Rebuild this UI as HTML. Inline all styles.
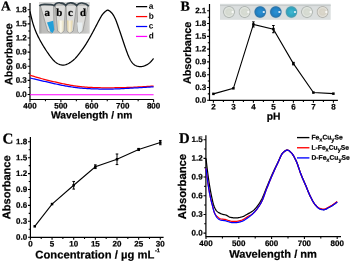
<!DOCTYPE html><html><head><meta charset="utf-8"><style>html,body{margin:0;padding:0;background:#fff;width:350px;height:261px;overflow:hidden}svg{display:block}text{font-family:"Liberation Sans",sans-serif;fill:#000;stroke:#000;stroke-width:0.22px;text-rendering:geometricPrecision}</style></head><body>
<svg width="350" height="261" viewBox="0 0 350 261">
<defs><filter id="bl" x="-20%" y="-20%" width="140%" height="140%"><feGaussianBlur stdDeviation="0.6"/></filter><filter id="bl2" x="-20%" y="-20%" width="140%" height="140%"><feGaussianBlur stdDeviation="0.9"/></filter><radialGradient id="wellW" cx="0.5" cy="0.5" r="0.5"><stop offset="0" stop-color="#d8ddd4"/><stop offset="0.5" stop-color="#d4d9d0"/><stop offset="0.72" stop-color="#e2e6e0"/><stop offset="0.88" stop-color="#b0b6b2"/><stop offset="1" stop-color="#cfd3d3"/></radialGradient><radialGradient id="wellY" cx="0.5" cy="0.5" r="0.5"><stop offset="0" stop-color="#dcd8cc"/><stop offset="0.5" stop-color="#d6d2c6"/><stop offset="0.72" stop-color="#e4e2da"/><stop offset="0.88" stop-color="#b4b4ae"/><stop offset="1" stop-color="#d2d4d2"/></radialGradient><radialGradient id="wellB" cx="0.5" cy="0.5" r="0.5"><stop offset="0" stop-color="#2c92d4"/><stop offset="0.6" stop-color="#2282c6"/><stop offset="0.84" stop-color="#2c74a8"/><stop offset="1" stop-color="#b4c6d2"/></radialGradient><radialGradient id="wellC" cx="0.5" cy="0.5" r="0.5"><stop offset="0" stop-color="#44b8d0"/><stop offset="0.6" stop-color="#2ca6c2"/><stop offset="0.84" stop-color="#4a9cb0"/><stop offset="1" stop-color="#bcd0d4"/></radialGradient><filter id="gb" x="0" y="0" width="350" height="261" filterUnits="userSpaceOnUse"><feGaussianBlur stdDeviation="0.42"/></filter></defs>
<g filter="url(#gb)">
<rect x="0" y="0" width="350" height="261" fill="#fff"/>
<path d="M30.00,2.90 V99.50 H153.60" fill="none" stroke="#000" stroke-width="1.20"/>
<path d="M30.00,94.50 h-2.40 M30.00,80.37 h-2.40 M30.00,66.24 h-2.40 M30.00,52.11 h-2.40 M30.00,37.98 h-2.40 M30.00,23.85 h-2.40 M30.00,9.72 h-2.40 M30.00,87.44 h-1.70 M30.00,73.31 h-1.70 M30.00,59.17 h-1.70 M30.00,45.04 h-1.70 M30.00,30.92 h-1.70 M30.00,16.78 h-1.70 M30.00,99.50 v2.40 M60.90,99.50 v2.40 M91.80,99.50 v2.40 M122.70,99.50 v2.40 M153.60,99.50 v2.40 M45.45,99.50 v1.70 M76.35,99.50 v1.70 M107.25,99.50 v1.70 M138.15,99.50 v1.70 " fill="none" stroke="#000" stroke-width="1.08"/>
<text transform="rotate(0.05 26.80 96.95)" x="26.80" y="96.95" text-anchor="end" font-size="8.00" font-weight="bold">0.0</text>
<text transform="rotate(0.05 26.80 82.82)" x="26.80" y="82.82" text-anchor="end" font-size="8.00" font-weight="bold">0.3</text>
<text transform="rotate(0.05 26.80 68.69)" x="26.80" y="68.69" text-anchor="end" font-size="8.00" font-weight="bold">0.6</text>
<text transform="rotate(0.05 26.80 54.56)" x="26.80" y="54.56" text-anchor="end" font-size="8.00" font-weight="bold">0.9</text>
<text transform="rotate(0.05 26.80 40.43)" x="26.80" y="40.43" text-anchor="end" font-size="8.00" font-weight="bold">1.2</text>
<text transform="rotate(0.05 26.80 26.30)" x="26.80" y="26.30" text-anchor="end" font-size="8.00" font-weight="bold">1.5</text>
<text transform="rotate(0.05 26.80 12.17)" x="26.80" y="12.17" text-anchor="end" font-size="8.00" font-weight="bold">1.8</text>
<text transform="rotate(0.05 30.00 108.60)" x="30.00" y="108.60" text-anchor="middle" font-size="8.00" font-weight="bold">400</text>
<text transform="rotate(0.05 60.90 108.60)" x="60.90" y="108.60" text-anchor="middle" font-size="8.00" font-weight="bold">500</text>
<text transform="rotate(0.05 91.80 108.60)" x="91.80" y="108.60" text-anchor="middle" font-size="8.00" font-weight="bold">600</text>
<text transform="rotate(0.05 122.70 108.60)" x="122.70" y="108.60" text-anchor="middle" font-size="8.00" font-weight="bold">700</text>
<text transform="rotate(0.05 153.60 108.60)" x="153.60" y="108.60" text-anchor="middle" font-size="8.00" font-weight="bold">800</text>
<text x="12.20" y="54.20" font-size="10.65" font-weight="bold" text-anchor="middle" transform="rotate(-89.95 12.20 54.20)">Absorbance</text>
<text transform="rotate(0.05 91.7 118.6)" x="91.7" y="118.6" font-size="10.3" font-weight="bold" text-anchor="middle">Wavelength / nm</text>
<text transform="rotate(0.05 1.00 10.60)" x="1.00" y="10.60" font-size="13.50" font-weight="bold" style="font-family:'Liberation Serif', serif">A</text>
<path d="M30.00,11.40 L30.50,13.64 L31.00,15.85 L31.50,17.98 L32.00,20.00 L32.50,21.88 L33.00,23.61 L33.50,25.23 L34.00,26.74 L34.50,28.16 L35.00,29.50 L35.50,30.77 L36.00,31.99 L36.50,33.15 L37.00,34.27 L37.50,35.34 L38.00,36.37 L38.50,37.36 L39.00,38.33 L39.50,39.28 L40.00,40.20 L40.50,41.11 L41.00,42.00 L41.50,42.89 L42.00,43.75 L42.50,44.61 L43.00,45.45 L43.50,46.28 L44.00,47.10 L44.50,47.91 L45.00,48.70 L45.50,49.48 L46.00,50.25 L46.50,51.02 L47.00,51.76 L47.50,52.50 L48.00,53.22 L48.50,53.94 L49.00,54.64 L49.50,55.33 L50.00,56.00 L50.50,56.66 L51.00,57.31 L51.50,57.94 L52.00,58.55 L52.50,59.14 L53.00,59.71 L53.50,60.25 L54.00,60.76 L54.50,61.25 L55.00,61.70 L55.50,62.12 L56.00,62.51 L56.50,62.87 L57.00,63.19 L57.50,63.49 L58.00,63.76 L58.50,64.01 L59.00,64.23 L59.50,64.43 L60.00,64.60 L60.50,64.75 L61.00,64.88 L61.50,64.98 L62.00,65.06 L62.50,65.11 L63.00,65.12 L63.50,65.11 L64.00,65.07 L64.50,65.00 L65.00,64.90 L65.50,64.77 L66.00,64.62 L66.50,64.43 L67.00,64.23 L67.50,64.00 L68.00,63.76 L68.50,63.49 L69.00,63.21 L69.50,62.91 L70.00,62.60 L70.50,62.28 L71.00,61.94 L71.50,61.59 L72.00,61.22 L72.50,60.84 L73.00,60.43 L73.50,60.01 L74.00,59.56 L74.50,59.09 L75.00,58.60 L75.50,58.08 L76.00,57.54 L76.50,56.98 L77.00,56.39 L77.50,55.79 L78.00,55.17 L78.50,54.55 L79.00,53.91 L79.50,53.26 L80.00,52.60 L80.50,51.94 L81.00,51.27 L81.50,50.60 L82.00,49.92 L82.50,49.23 L83.00,48.53 L83.50,47.81 L84.00,47.09 L84.50,46.35 L85.00,45.60 L85.50,44.83 L86.00,44.05 L86.50,43.25 L87.00,42.44 L87.50,41.62 L88.00,40.78 L88.50,39.93 L89.00,39.06 L89.50,38.19 L90.00,37.30 L90.50,36.40 L91.00,35.49 L91.50,34.57 L92.00,33.65 L92.50,32.72 L93.00,31.78 L93.50,30.84 L94.00,29.89 L94.50,28.95 L95.00,28.00 L95.50,27.05 L96.00,26.11 L96.50,25.16 L97.00,24.20 L97.50,23.24 L98.00,22.27 L98.50,21.31 L99.00,20.36 L99.50,19.42 L100.00,18.50 L100.50,17.60 L101.00,16.74 L101.50,15.92 L102.00,15.15 L102.50,14.44 L103.00,13.80 L103.50,13.23 L104.00,12.72 L104.50,12.25 L105.00,11.80 L105.50,11.36 L106.00,10.95 L106.50,10.59 L107.00,10.34 L107.50,10.20 L108.00,10.21 L108.50,10.35 L109.00,10.59 L109.50,10.92 L110.00,11.30 L110.50,11.72 L111.00,12.19 L111.50,12.70 L112.00,13.27 L112.50,13.90 L113.00,14.60 L113.50,15.37 L114.00,16.22 L114.50,17.16 L115.00,18.20 L115.50,19.33 L116.00,20.55 L116.50,21.84 L117.00,23.19 L117.50,24.58 L118.00,26.00 L118.50,27.43 L119.00,28.88 L119.50,30.33 L120.00,31.80 L120.50,33.28 L121.00,34.77 L121.50,36.27 L122.00,37.77 L122.50,39.27 L123.00,40.77 L123.50,42.27 L124.00,43.76 L124.50,45.24 L125.00,46.70 L125.50,48.15 L126.00,49.57 L126.50,50.97 L127.00,52.32 L127.50,53.64 L128.00,54.90 L128.50,56.10 L129.00,57.24 L129.50,58.31 L130.00,59.30 L130.50,60.20 L131.00,61.03 L131.50,61.77 L132.00,62.45 L132.50,63.05 L133.00,63.59 L133.50,64.07 L134.00,64.50 L134.50,64.87 L135.00,65.20 L135.50,65.49 L136.00,65.73 L136.50,65.94 L137.00,66.12 L137.50,66.26 L138.00,66.38 L138.50,66.47 L139.00,66.53 L139.50,66.57 L140.00,66.60 L140.50,66.61 L141.00,66.60 L141.50,66.56 L142.00,66.50 L142.50,66.41 L143.00,66.29 L143.50,66.15 L144.00,65.98 L144.50,65.80 L145.00,65.60 L145.50,65.39 L146.00,65.16 L146.50,64.92 L147.00,64.66 L147.50,64.37 L148.00,64.06 L148.50,63.72 L149.00,63.35 L149.50,62.94 L150.00,62.50 L150.50,62.02 L151.00,61.51 L151.50,60.96 L152.00,60.40 L152.50,59.82 L153.00,59.22 L153.50,58.62 L153.60,58.50" fill="none" stroke="#000" stroke-width="1.25"/>
<path d="M30.00,75.20 L31.00,75.51 L32.00,75.82 L33.00,76.12 L34.00,76.43 L35.00,76.73 L36.00,77.03 L37.00,77.33 L38.00,77.63 L39.00,77.92 L40.00,78.20 L41.00,78.48 L42.00,78.75 L43.00,79.02 L44.00,79.29 L45.00,79.55 L46.00,79.81 L47.00,80.06 L48.00,80.31 L49.00,80.56 L50.00,80.80 L51.00,81.04 L52.00,81.28 L53.00,81.52 L54.00,81.75 L55.00,81.98 L56.00,82.21 L57.00,82.44 L58.00,82.66 L59.00,82.88 L60.00,83.10 L61.00,83.32 L62.00,83.53 L63.00,83.74 L64.00,83.95 L65.00,84.15 L66.00,84.35 L67.00,84.54 L68.00,84.73 L69.00,84.92 L70.00,85.10 L71.00,85.28 L72.00,85.45 L73.00,85.61 L74.00,85.77 L75.00,85.92 L76.00,86.07 L77.00,86.21 L78.00,86.34 L79.00,86.47 L80.00,86.58 L81.00,86.70 L82.00,86.80 L83.00,86.90 L84.00,86.99 L85.00,87.07 L86.00,87.14 L87.00,87.21 L88.00,87.28 L89.00,87.34 L90.00,87.39 L91.00,87.44 L92.00,87.49 L93.00,87.53 L94.00,87.56 L95.00,87.60 L96.00,87.63 L97.00,87.66 L98.00,87.69 L99.00,87.71 L100.00,87.74 L101.00,87.75 L102.00,87.77 L103.00,87.78 L104.00,87.79 L105.00,87.80 L106.00,87.80 L107.00,87.80 L108.00,87.80 L109.00,87.80 L110.00,87.79 L111.00,87.78 L112.00,87.77 L113.00,87.76 L114.00,87.75 L115.00,87.73 L116.00,87.72 L117.00,87.70 L118.00,87.68 L119.00,87.67 L120.00,87.65 L121.00,87.63 L122.00,87.61 L123.00,87.59 L124.00,87.56 L125.00,87.54 L126.00,87.51 L127.00,87.48 L128.00,87.45 L129.00,87.42 L130.00,87.38 L131.00,87.34 L132.00,87.30 L133.00,87.25 L134.00,87.21 L135.00,87.16 L136.00,87.10 L137.00,87.05 L138.00,86.99 L139.00,86.93 L140.00,86.88 L141.00,86.82 L142.00,86.76 L143.00,86.70 L144.00,86.64 L145.00,86.58 L146.00,86.53 L147.00,86.47 L148.00,86.41 L149.00,86.36 L150.00,86.30 L151.00,86.24 L152.00,86.19 L153.00,86.13 L153.60,86.10" fill="none" stroke="#ff0000" stroke-width="1.25"/>
<path d="M30.00,78.00 L31.00,78.25 L32.00,78.49 L33.00,78.74 L34.00,78.98 L35.00,79.23 L36.00,79.47 L37.00,79.70 L38.00,79.94 L39.00,80.17 L40.00,80.40 L41.00,80.62 L42.00,80.85 L43.00,81.06 L44.00,81.28 L45.00,81.50 L46.00,81.71 L47.00,81.93 L48.00,82.15 L49.00,82.37 L50.00,82.60 L51.00,82.83 L52.00,83.06 L53.00,83.30 L54.00,83.53 L55.00,83.77 L56.00,84.00 L57.00,84.24 L58.00,84.46 L59.00,84.68 L60.00,84.90 L61.00,85.11 L62.00,85.31 L63.00,85.50 L64.00,85.69 L65.00,85.87 L66.00,86.05 L67.00,86.22 L68.00,86.38 L69.00,86.54 L70.00,86.70 L71.00,86.85 L72.00,87.00 L73.00,87.15 L74.00,87.29 L75.00,87.42 L76.00,87.55 L77.00,87.67 L78.00,87.79 L79.00,87.90 L80.00,88.01 L81.00,88.11 L82.00,88.20 L83.00,88.29 L84.00,88.36 L85.00,88.44 L86.00,88.50 L87.00,88.56 L88.00,88.62 L89.00,88.67 L90.00,88.71 L91.00,88.76 L92.00,88.80 L93.00,88.83 L94.00,88.87 L95.00,88.90 L96.00,88.93 L97.00,88.96 L98.00,88.99 L99.00,89.01 L100.00,89.03 L101.00,89.05 L102.00,89.07 L103.00,89.08 L104.00,89.09 L105.00,89.10 L106.00,89.10 L107.00,89.10 L108.00,89.10 L109.00,89.09 L110.00,89.08 L111.00,89.07 L112.00,89.05 L113.00,89.02 L114.00,89.00 L115.00,88.97 L116.00,88.94 L117.00,88.90 L118.00,88.86 L119.00,88.82 L120.00,88.77 L121.00,88.72 L122.00,88.67 L123.00,88.62 L124.00,88.56 L125.00,88.50 L126.00,88.45 L127.00,88.39 L128.00,88.33 L129.00,88.27 L130.00,88.21 L131.00,88.16 L132.00,88.10 L133.00,88.04 L134.00,87.99 L135.00,87.94 L136.00,87.88 L137.00,87.83 L138.00,87.78 L139.00,87.72 L140.00,87.67 L141.00,87.61 L142.00,87.56 L143.00,87.50 L144.00,87.44 L145.00,87.38 L146.00,87.31 L147.00,87.25 L148.00,87.18 L149.00,87.12 L150.00,87.05 L151.00,86.98 L152.00,86.91 L153.00,86.84 L153.60,86.80" fill="none" stroke="#0000ff" stroke-width="1.25"/>
<path d="M30.00,94.75 H153.60" fill="none" stroke="#ff00ff" stroke-width="1.2"/>
<path d="M136.0,6.65 H147.2" stroke="#000" stroke-width="1.25"/>
<text transform="rotate(0.05 148.8 8.75)" x="148.8" y="8.75" font-size="8.3" font-weight="bold" style="stroke-width:0">a</text>
<path d="M136.0,16.58 H147.2" stroke="#ff0000" stroke-width="1.25"/>
<text transform="rotate(0.05 148.8 18.68)" x="148.8" y="18.68" font-size="8.3" font-weight="bold" style="stroke-width:0">b</text>
<path d="M136.0,26.51 H147.2" stroke="#0000ff" stroke-width="1.25"/>
<text transform="rotate(0.05 148.8 28.61)" x="148.8" y="28.61" font-size="8.3" font-weight="bold" style="stroke-width:0">c</text>
<path d="M136.0,36.44 H147.2" stroke="#ff00ff" stroke-width="1.25"/>
<text transform="rotate(0.05 148.8 38.54)" x="148.8" y="38.54" font-size="8.3" font-weight="bold" style="stroke-width:0">d</text>
<linearGradient id="phbg" x1="0" y1="0" x2="1" y2="0"><stop offset="0" stop-color="#9c9c9a"/><stop offset="0.06" stop-color="#bcbcba"/><stop offset="0.9" stop-color="#c4c4c2"/><stop offset="1" stop-color="#d2d2d0"/></linearGradient>
<linearGradient id="liqB" x1="0" y1="0" x2="1" y2="0"><stop offset="0" stop-color="#e2d8b4"/><stop offset="0.5" stop-color="#fbfaf2"/><stop offset="1" stop-color="#e6dcb8"/></linearGradient>
<linearGradient id="liqC" x1="0" y1="0" x2="1" y2="0"><stop offset="0" stop-color="#dccb9a"/><stop offset="0.5" stop-color="#f8f2e0"/><stop offset="1" stop-color="#e0d0a0"/></linearGradient>
<rect x="39.2" y="2.3" width="50.5" height="31.3" fill="url(#phbg)"/>
<rect x="39.2" y="2.3" width="50.5" height="2.2" fill="#dcdcda" filter="url(#bl)"/>
<path d="M40.20,5.00 L53.60,5.00 L54.00,30.00 L51.50,33.20 L47.60,31.00Z" fill="#dededc" stroke="#949492" stroke-width="0.8" filter="url(#bl)"/>
<path d="M47.00,22.40 L53.20,20.80 L54.20,29.80 L52.60,32.90 L50.60,32.10Z" fill="#229fd8" filter="url(#bl)"/>
<path d="M55.20,5.00 L65.60,5.00 L64.00,31.00 L61.00,33.20 L57.60,31.00Z" fill="#dededc" stroke="#949492" stroke-width="0.8" filter="url(#bl)"/>
<path d="M58.00,20.60 L63.60,20.60 L63.30,31.00 L61.00,33.00 L58.50,31.00Z" fill="url(#liqB)" filter="url(#bl)"/>
<path d="M66.00,5.00 L76.60,5.00 L73.20,31.00 L70.00,33.20 L67.00,31.00Z" fill="#dededc" stroke="#949492" stroke-width="0.8" filter="url(#bl)"/>
<path d="M66.90,20.60 L72.60,20.60 L72.00,31.00 L69.80,32.80 L67.70,31.00Z" fill="url(#liqC)" filter="url(#bl)"/>
<path d="M77.00,5.00 L88.20,5.00 L82.80,31.00 L79.60,33.20 L77.60,31.00Z" fill="#dededc" stroke="#949492" stroke-width="0.8" filter="url(#bl)"/>
<path d="M77.10,22.60 L82.40,22.60 L81.70,31.00 L79.50,33.00 L77.90,31.00Z" fill="#e8eef0" filter="url(#bl)"/>
<path d="M39.4,6 Q41,4.2 45,4.4 L51,4.6 Q53,4.8 54.2,5.6 Q56,2.4 60,2.8 Q64,3 65.6,5.4 Q67.5,2.6 71,2.9 Q75,3.2 76.6,5.6 Q78.5,2.8 82,3.0 Q86.5,3.4 88.8,6.2" fill="none" stroke="#34424a" stroke-width="1.7" filter="url(#bl)"/>
<text transform="rotate(0.05 47.2 16.1)" x="47.2" y="16.1" font-size="10.9" font-weight="bold" text-anchor="middle" style="font-family:'Liberation Serif', serif">a</text>
<text transform="rotate(0.05 59.4 16.1)" x="59.4" y="16.1" font-size="10.9" font-weight="bold" text-anchor="middle" style="font-family:'Liberation Serif', serif">b</text>
<text transform="rotate(0.05 70.3 16.1)" x="70.3" y="16.1" font-size="10.9" font-weight="bold" text-anchor="middle" style="font-family:'Liberation Serif', serif">c</text>
<text transform="rotate(0.05 83.0 16.1)" x="83.0" y="16.1" font-size="10.9" font-weight="bold" text-anchor="middle" style="font-family:'Liberation Serif', serif">d</text>
<path d="M209.50,4.10 V100.40 H337.90" fill="none" stroke="#000" stroke-width="1.20"/>
<path d="M209.50,100.25 h-2.40 M209.50,87.47 h-2.40 M209.50,74.69 h-2.40 M209.50,61.91 h-2.40 M209.50,49.13 h-2.40 M209.50,36.35 h-2.40 M209.50,23.57 h-2.40 M209.50,10.79 h-2.40 M209.50,93.86 h-1.70 M209.50,81.08 h-1.70 M209.50,68.30 h-1.70 M209.50,55.52 h-1.70 M209.50,42.74 h-1.70 M209.50,29.96 h-1.70 M209.50,17.18 h-1.70 M213.40,100.40 v2.40 M233.40,100.40 v2.40 M253.40,100.40 v2.40 M273.40,100.40 v2.40 M293.40,100.40 v2.40 M313.40,100.40 v2.40 M333.40,100.40 v2.40 M223.40,100.40 v1.70 M243.40,100.40 v1.70 M263.40,100.40 v1.70 M283.40,100.40 v1.70 M303.40,100.40 v1.70 M323.40,100.40 v1.70 " fill="none" stroke="#000" stroke-width="1.08"/>
<text transform="rotate(0.05 206.30 102.70)" x="206.30" y="102.70" text-anchor="end" font-size="8.00" font-weight="bold">0.0</text>
<text transform="rotate(0.05 206.30 89.92)" x="206.30" y="89.92" text-anchor="end" font-size="8.00" font-weight="bold">0.3</text>
<text transform="rotate(0.05 206.30 77.14)" x="206.30" y="77.14" text-anchor="end" font-size="8.00" font-weight="bold">0.6</text>
<text transform="rotate(0.05 206.30 64.36)" x="206.30" y="64.36" text-anchor="end" font-size="8.00" font-weight="bold">0.9</text>
<text transform="rotate(0.05 206.30 51.58)" x="206.30" y="51.58" text-anchor="end" font-size="8.00" font-weight="bold">1.2</text>
<text transform="rotate(0.05 206.30 38.80)" x="206.30" y="38.80" text-anchor="end" font-size="8.00" font-weight="bold">1.5</text>
<text transform="rotate(0.05 206.30 26.02)" x="206.30" y="26.02" text-anchor="end" font-size="8.00" font-weight="bold">1.8</text>
<text transform="rotate(0.05 206.30 13.24)" x="206.30" y="13.24" text-anchor="end" font-size="8.00" font-weight="bold">2.1</text>
<text transform="rotate(0.05 213.40 109.50)" x="213.40" y="109.50" text-anchor="middle" font-size="8.00" font-weight="bold">2</text>
<text transform="rotate(0.05 233.40 109.50)" x="233.40" y="109.50" text-anchor="middle" font-size="8.00" font-weight="bold">3</text>
<text transform="rotate(0.05 253.40 109.50)" x="253.40" y="109.50" text-anchor="middle" font-size="8.00" font-weight="bold">4</text>
<text transform="rotate(0.05 273.40 109.50)" x="273.40" y="109.50" text-anchor="middle" font-size="8.00" font-weight="bold">5</text>
<text transform="rotate(0.05 293.40 109.50)" x="293.40" y="109.50" text-anchor="middle" font-size="8.00" font-weight="bold">6</text>
<text transform="rotate(0.05 313.40 109.50)" x="313.40" y="109.50" text-anchor="middle" font-size="8.00" font-weight="bold">7</text>
<text transform="rotate(0.05 333.40 109.50)" x="333.40" y="109.50" text-anchor="middle" font-size="8.00" font-weight="bold">8</text>
<text x="190.90" y="52.85" font-size="10.80" font-weight="bold" text-anchor="middle" transform="rotate(-89.95 190.90 52.85)">Absorbance</text>
<text transform="rotate(0.05 273.5 119.8)" x="273.5" y="119.8" font-size="10.3" font-weight="bold" text-anchor="middle">pH</text>
<text transform="rotate(0.05 180.40 10.70)" x="180.40" y="10.70" font-size="14.00" font-weight="bold" style="font-family:'Liberation Serif', serif">B</text>
<path d="M213.40,93.86 L233.40,88.32 L253.40,24.42 L273.40,29.11 L293.40,63.61 L313.40,92.58 L333.40,93.65" fill="none" stroke="#000" stroke-width="1.1"/>
<rect x="212.15" y="92.61" width="2.5" height="2.5" fill="#000"/>
<rect x="232.15" y="87.07" width="2.5" height="2.5" fill="#000"/>
<rect x="252.15" y="23.17" width="2.5" height="2.5" fill="#000"/>
<rect x="272.15" y="27.86" width="2.5" height="2.5" fill="#000"/>
<rect x="292.15" y="62.36" width="2.5" height="2.5" fill="#000"/>
<rect x="312.15" y="91.33" width="2.5" height="2.5" fill="#000"/>
<rect x="332.15" y="92.40" width="2.5" height="2.5" fill="#000"/>
<path d="M253.40,21.87 V26.98 M252.10,21.87 h2.6 M252.10,26.98 h2.6" stroke="#000" stroke-width="1.0"/>
<path d="M273.40,25.49 V32.73 M272.10,25.49 h2.6 M272.10,32.73 h2.6" stroke="#000" stroke-width="1.0"/>
<path d="M293.40,62.34 V64.89 M292.10,62.34 h2.6 M292.10,64.89 h2.6" stroke="#000" stroke-width="1.0"/>
<rect x="220" y="3.8" width="110.7" height="16.0" fill="#dadede"/>
<rect x="220" y="4.8" width="110.7" height="1.3" fill="#c8cccc" filter="url(#bl)"/>
<circle cx="229.00" cy="12.0" r="6.2" fill="url(#wellW)"/>
<ellipse cx="232.60" cy="12.0" rx="1.2" ry="1.0" fill="#fff" opacity="0.85" filter="url(#bl)"/>
<circle cx="244.60" cy="12.0" r="6.2" fill="url(#wellW)"/>
<ellipse cx="248.20" cy="12.0" rx="1.2" ry="1.0" fill="#fff" opacity="0.85" filter="url(#bl)"/>
<circle cx="260.20" cy="12.0" r="6.2" fill="url(#wellB)"/>
<ellipse cx="263.80" cy="12.0" rx="1.2" ry="1.0" fill="#fff" opacity="0.85" filter="url(#bl)"/>
<circle cx="275.80" cy="12.0" r="6.2" fill="url(#wellB)"/>
<ellipse cx="279.40" cy="12.0" rx="1.2" ry="1.0" fill="#fff" opacity="0.85" filter="url(#bl)"/>
<circle cx="291.40" cy="12.0" r="6.2" fill="url(#wellC)"/>
<ellipse cx="295.00" cy="12.0" rx="1.2" ry="1.0" fill="#fff" opacity="0.85" filter="url(#bl)"/>
<circle cx="307.00" cy="12.0" r="6.2" fill="url(#wellW)"/>
<ellipse cx="310.60" cy="12.0" rx="1.2" ry="1.0" fill="#fff" opacity="0.85" filter="url(#bl)"/>
<circle cx="322.60" cy="12.0" r="6.2" fill="url(#wellY)"/>
<ellipse cx="326.20" cy="12.0" rx="1.2" ry="1.0" fill="#fff" opacity="0.85" filter="url(#bl)"/>
<path d="M30.40,137.00 V237.30 H163.60" fill="none" stroke="#000" stroke-width="1.20"/>
<path d="M30.40,237.20 h-2.40 M30.40,221.30 h-2.40 M30.40,205.40 h-2.40 M30.40,189.50 h-2.40 M30.40,173.60 h-2.40 M30.40,157.70 h-2.40 M30.40,141.80 h-2.40 M30.40,229.25 h-1.70 M30.40,213.35 h-1.70 M30.40,197.45 h-1.70 M30.40,181.55 h-1.70 M30.40,165.65 h-1.70 M30.40,149.75 h-1.70 M30.40,237.30 v2.40 M52.05,237.30 v2.40 M73.70,237.30 v2.40 M95.35,237.30 v2.40 M117.00,237.30 v2.40 M138.65,237.30 v2.40 M160.30,237.30 v2.40 M41.22,237.30 v1.70 M62.88,237.30 v1.70 M84.53,237.30 v1.70 M106.18,237.30 v1.70 M127.82,237.30 v1.70 M149.47,237.30 v1.70 " fill="none" stroke="#000" stroke-width="1.08"/>
<text transform="rotate(0.05 27.20 239.65)" x="27.20" y="239.65" text-anchor="end" font-size="8.00" font-weight="bold">0.0</text>
<text transform="rotate(0.05 27.20 223.75)" x="27.20" y="223.75" text-anchor="end" font-size="8.00" font-weight="bold">0.3</text>
<text transform="rotate(0.05 27.20 207.85)" x="27.20" y="207.85" text-anchor="end" font-size="8.00" font-weight="bold">0.6</text>
<text transform="rotate(0.05 27.20 191.95)" x="27.20" y="191.95" text-anchor="end" font-size="8.00" font-weight="bold">0.9</text>
<text transform="rotate(0.05 27.20 176.05)" x="27.20" y="176.05" text-anchor="end" font-size="8.00" font-weight="bold">1.2</text>
<text transform="rotate(0.05 27.20 160.15)" x="27.20" y="160.15" text-anchor="end" font-size="8.00" font-weight="bold">1.5</text>
<text transform="rotate(0.05 27.20 144.25)" x="27.20" y="144.25" text-anchor="end" font-size="8.00" font-weight="bold">1.8</text>
<text transform="rotate(0.05 30.40 246.40)" x="30.40" y="246.40" text-anchor="middle" font-size="8.00" font-weight="bold">0</text>
<text transform="rotate(0.05 52.05 246.40)" x="52.05" y="246.40" text-anchor="middle" font-size="8.00" font-weight="bold">5</text>
<text transform="rotate(0.05 73.70 246.40)" x="73.70" y="246.40" text-anchor="middle" font-size="8.00" font-weight="bold">10</text>
<text transform="rotate(0.05 95.35 246.40)" x="95.35" y="246.40" text-anchor="middle" font-size="8.00" font-weight="bold">15</text>
<text transform="rotate(0.05 117.00 246.40)" x="117.00" y="246.40" text-anchor="middle" font-size="8.00" font-weight="bold">20</text>
<text transform="rotate(0.05 138.65 246.40)" x="138.65" y="246.40" text-anchor="middle" font-size="8.00" font-weight="bold">25</text>
<text transform="rotate(0.05 160.30 246.40)" x="160.30" y="246.40" text-anchor="middle" font-size="8.00" font-weight="bold">30</text>
<text x="10.30" y="187.30" font-size="11.05" font-weight="bold" text-anchor="middle" transform="rotate(-89.95 10.30 187.30)">Absorbance</text>
<text transform="rotate(0.05 35.3 258.5)" x="35.3" y="258.5" font-size="11.25" font-weight="bold">Concentration / &#181;g mL<tspan font-size="5.6" dy="-6.3" dx="0.6">-1</tspan></text>
<text transform="rotate(0.05 2.60 143.40)" x="2.60" y="143.40" font-size="15.00" font-weight="bold" style="font-family:'Liberation Serif', serif">C</text>
<path d="M34.73,226.33 L52.05,204.07 L73.70,185.26 L95.35,166.71 L117.00,159.29 L138.65,149.48 L160.30,142.59" fill="none" stroke="#000" stroke-width="1.1"/>
<rect x="33.48" y="225.08" width="2.5" height="2.5" fill="#000"/>
<rect x="50.80" y="202.82" width="2.5" height="2.5" fill="#000"/>
<rect x="72.45" y="184.01" width="2.5" height="2.5" fill="#000"/>
<rect x="94.10" y="165.46" width="2.5" height="2.5" fill="#000"/>
<rect x="115.75" y="158.04" width="2.5" height="2.5" fill="#000"/>
<rect x="137.40" y="148.23" width="2.5" height="2.5" fill="#000"/>
<rect x="159.05" y="141.34" width="2.5" height="2.5" fill="#000"/>
<path d="M73.70,181.44 V189.08 M72.40,181.44 h2.6 M72.40,189.08 h2.6" stroke="#000" stroke-width="1.0"/>
<path d="M95.35,164.85 V168.56 M94.05,164.85 h2.6 M94.05,168.56 h2.6" stroke="#000" stroke-width="1.0"/>
<path d="M117.00,153.99 V164.59 M115.70,153.99 h2.6 M115.70,164.59 h2.6" stroke="#000" stroke-width="1.0"/>
<path d="M138.65,148.42 V150.54 M137.35,148.42 h2.6 M137.35,150.54 h2.6" stroke="#000" stroke-width="1.0"/>
<path d="M160.30,140.47 V144.72 M159.00,140.47 h2.6 M159.00,144.72 h2.6" stroke="#000" stroke-width="1.0"/>
<path d="M205.90,135.20 V236.70 H341.00" fill="none" stroke="#000" stroke-width="1.20"/>
<path d="M205.90,233.10 h-2.40 M205.90,214.42 h-2.40 M205.90,195.74 h-2.40 M205.90,177.06 h-2.40 M205.90,158.38 h-2.40 M205.90,139.69 h-2.40 M205.90,223.76 h-1.70 M205.90,205.08 h-1.70 M205.90,186.40 h-1.70 M205.90,167.72 h-1.70 M205.90,149.04 h-1.70 M206.00,236.70 v2.40 M238.80,236.70 v2.40 M271.60,236.70 v2.40 M304.40,236.70 v2.40 M337.20,236.70 v2.40 M222.40,236.70 v1.70 M255.20,236.70 v1.70 M288.00,236.70 v1.70 M320.80,236.70 v1.70 " fill="none" stroke="#000" stroke-width="1.08"/>
<text transform="rotate(0.05 202.70 235.55)" x="202.70" y="235.55" text-anchor="end" font-size="8.00" font-weight="bold">0.0</text>
<text transform="rotate(0.05 202.70 216.87)" x="202.70" y="216.87" text-anchor="end" font-size="8.00" font-weight="bold">0.3</text>
<text transform="rotate(0.05 202.70 198.19)" x="202.70" y="198.19" text-anchor="end" font-size="8.00" font-weight="bold">0.6</text>
<text transform="rotate(0.05 202.70 179.51)" x="202.70" y="179.51" text-anchor="end" font-size="8.00" font-weight="bold">0.9</text>
<text transform="rotate(0.05 202.70 160.83)" x="202.70" y="160.83" text-anchor="end" font-size="8.00" font-weight="bold">1.2</text>
<text transform="rotate(0.05 202.70 142.14)" x="202.70" y="142.14" text-anchor="end" font-size="8.00" font-weight="bold">1.5</text>
<text transform="rotate(0.05 206.00 246.00)" x="206.00" y="246.00" text-anchor="middle" font-size="8.00" font-weight="bold">400</text>
<text transform="rotate(0.05 238.80 246.00)" x="238.80" y="246.00" text-anchor="middle" font-size="8.00" font-weight="bold">500</text>
<text transform="rotate(0.05 271.60 246.00)" x="271.60" y="246.00" text-anchor="middle" font-size="8.00" font-weight="bold">600</text>
<text transform="rotate(0.05 304.40 246.00)" x="304.40" y="246.00" text-anchor="middle" font-size="8.00" font-weight="bold">700</text>
<text transform="rotate(0.05 337.20 246.00)" x="337.20" y="246.00" text-anchor="middle" font-size="8.00" font-weight="bold">800</text>
<text x="186.10" y="186.50" font-size="11.30" font-weight="bold" text-anchor="middle" transform="rotate(-89.95 186.10 186.50)">Absorbance</text>
<text transform="rotate(0.05 273.1 257.7)" x="273.1" y="257.7" font-size="11.1" font-weight="bold" text-anchor="middle">Wavelength / nm</text>
<text transform="rotate(0.05 178.90 142.90)" x="178.90" y="142.90" font-size="14.80" font-weight="bold" style="font-family:'Liberation Serif', serif">D</text>
<path d="M206.00,158.38 L206.49,162.78 L206.98,166.99 L207.48,171.00 L207.97,174.80 L208.46,178.40 L208.95,181.78 L209.44,184.95 L209.94,187.90 L210.43,190.66 L210.92,193.23 L211.41,195.63 L211.90,197.89 L212.40,200.13 L212.89,202.28 L213.38,204.22 L213.87,205.81 L214.36,207.01 L214.86,208.08 L215.35,209.04 L215.84,209.88 L216.33,210.60 L216.82,211.18 L217.32,211.63 L217.81,212.01 L218.30,212.35 L218.79,212.66 L219.28,212.93 L219.78,213.18 L220.27,213.40 L220.76,213.61 L221.25,213.80 L221.74,213.98 L222.24,214.15 L222.73,214.29 L223.22,214.42 L223.71,214.53 L224.20,214.64 L224.70,214.76 L225.19,214.88 L225.68,215.02 L226.17,215.17 L226.66,215.36 L227.16,215.62 L227.65,215.91 L228.14,216.23 L228.63,216.54 L229.12,216.83 L229.62,217.07 L230.11,217.24 L230.60,217.35 L231.09,217.44 L231.58,217.53 L232.08,217.62 L232.57,217.69 L233.06,217.76 L233.55,217.82 L234.04,217.87 L234.54,217.91 L235.03,217.94 L235.52,217.96 L236.01,217.97 L236.50,217.96 L237.00,217.92 L237.49,217.87 L237.98,217.80 L238.47,217.71 L238.96,217.61 L239.46,217.50 L239.95,217.39 L240.44,217.26 L240.93,217.13 L241.42,217.00 L241.92,216.86 L242.41,216.71 L242.90,216.52 L243.39,216.31 L243.88,216.08 L244.38,215.83 L244.87,215.57 L245.36,215.29 L245.85,215.01 L246.34,214.73 L246.84,214.45 L247.33,214.18 L247.82,213.91 L248.31,213.65 L248.80,213.38 L249.30,213.11 L249.79,212.84 L250.28,212.56 L250.77,212.26 L251.26,211.96 L251.76,211.64 L252.25,211.30 L252.74,210.94 L253.23,210.56 L253.72,210.14 L254.22,209.69 L254.71,209.21 L255.20,208.69 L255.69,208.15 L256.18,207.57 L256.68,206.97 L257.17,206.35 L257.66,205.71 L258.15,205.05 L258.64,204.37 L259.14,203.68 L259.63,202.94 L260.12,202.14 L260.61,201.30 L261.10,200.41 L261.60,199.48 L262.09,198.50 L262.58,197.44 L263.07,196.31 L263.56,195.13 L264.06,193.91 L264.55,192.67 L265.04,191.42 L265.53,190.16 L266.02,188.93 L266.52,187.72 L267.01,186.55 L267.50,185.38 L267.99,184.20 L268.48,183.02 L268.98,181.85 L269.47,180.68 L269.96,179.52 L270.45,178.36 L270.94,177.22 L271.44,176.09 L271.93,174.97 L272.42,173.87 L272.91,172.79 L273.40,171.71 L273.90,170.65 L274.39,169.60 L274.88,168.55 L275.37,167.52 L275.86,166.49 L276.36,165.48 L276.85,164.46 L277.34,163.46 L277.83,162.46 L278.32,161.47 L278.82,160.41 L279.31,159.31 L279.80,158.19 L280.29,157.08 L280.78,156.03 L281.28,155.05 L281.77,154.18 L282.26,153.45 L282.75,152.90 L283.24,152.44 L283.74,152.00 L284.23,151.58 L284.72,151.20 L285.21,150.85 L285.70,150.56 L286.20,150.33 L286.69,150.17 L287.18,150.10 L287.67,150.12 L288.16,150.27 L288.66,150.51 L289.15,150.84 L289.64,151.23 L290.13,151.67 L290.62,152.14 L291.12,152.61 L291.61,153.11 L292.10,153.69 L292.59,154.36 L293.08,155.10 L293.58,155.91 L294.07,156.78 L294.56,157.70 L295.05,158.66 L295.54,159.64 L296.04,160.65 L296.53,161.77 L297.02,163.01 L297.51,164.34 L298.00,165.74 L298.50,167.19 L298.99,168.66 L299.48,170.14 L299.97,171.59 L300.46,172.99 L300.96,174.33 L301.45,175.58 L301.94,176.78 L302.43,177.95 L302.92,179.10 L303.42,180.23 L303.91,181.35 L304.40,182.47 L304.89,183.59 L305.38,184.72 L305.88,185.87 L306.37,187.05 L306.86,188.25 L307.35,189.48 L307.84,190.70 L308.34,191.91 L308.83,193.09 L309.32,194.24 L309.81,195.33 L310.30,196.35 L310.80,197.33 L311.29,198.29 L311.78,199.23 L312.27,200.15 L312.76,201.03 L313.26,201.87 L313.75,202.66 L314.24,203.39 L314.73,204.05 L315.22,204.64 L315.72,205.23 L316.21,205.79 L316.70,206.33 L317.19,206.84 L317.68,207.31 L318.18,207.73 L318.67,208.09 L319.16,208.38 L319.65,208.60 L320.14,208.80 L320.64,208.98 L321.13,209.15 L321.62,209.29 L322.11,209.41 L322.60,209.50 L323.10,209.55 L323.59,209.56 L324.08,209.51 L324.57,209.40 L325.06,209.25 L325.56,209.06 L326.05,208.84 L326.54,208.60 L327.03,208.34 L327.52,208.07 L328.02,207.81 L328.51,207.56 L329.00,207.32 L329.49,207.07 L329.98,206.80 L330.48,206.53 L330.97,206.24 L331.46,205.95 L331.95,205.65 L332.44,205.33 L332.94,205.01 L333.43,204.69 L333.92,204.35 L334.41,204.01 L334.90,203.67 L335.40,203.32 L335.89,202.97 L336.38,202.61 L336.87,202.23 L337.20,201.97" fill="none" stroke="#000" stroke-width="1.25"/>
<path d="M206.00,168.34 L206.49,172.42 L206.98,176.29 L207.48,179.96 L207.97,183.43 L208.46,186.68 L208.95,189.73 L209.44,192.55 L209.94,195.16 L210.43,197.51 L210.92,199.64 L211.41,201.62 L211.90,203.51 L212.40,205.42 L212.89,207.42 L213.38,209.39 L213.87,211.19 L214.36,212.65 L214.86,213.66 L215.35,214.46 L215.84,215.14 L216.33,215.72 L216.82,216.22 L217.32,216.65 L217.81,217.07 L218.30,217.47 L218.79,217.84 L219.28,218.18 L219.78,218.48 L220.27,218.72 L220.76,218.89 L221.25,219.00 L221.74,219.08 L222.24,219.13 L222.73,219.18 L223.22,219.22 L223.71,219.26 L224.20,219.31 L224.70,219.38 L225.19,219.47 L225.68,219.59 L226.17,219.73 L226.66,219.89 L227.16,220.06 L227.65,220.22 L228.14,220.38 L228.63,220.52 L229.12,220.66 L229.62,220.82 L230.11,220.98 L230.60,221.12 L231.09,221.25 L231.58,221.34 L232.08,221.39 L232.57,221.39 L233.06,221.39 L233.55,221.38 L234.04,221.38 L234.54,221.37 L235.03,221.36 L235.52,221.34 L236.01,221.33 L236.50,221.31 L237.00,221.26 L237.49,221.20 L237.98,221.12 L238.47,221.03 L238.96,220.92 L239.46,220.80 L239.95,220.67 L240.44,220.54 L240.93,220.39 L241.42,220.25 L241.92,220.10 L242.41,219.91 L242.90,219.68 L243.39,219.42 L243.88,219.13 L244.38,218.82 L244.87,218.50 L245.36,218.17 L245.85,217.83 L246.34,217.50 L246.84,217.17 L247.33,216.86 L247.82,216.57 L248.31,216.30 L248.80,216.03 L249.30,215.76 L249.79,215.50 L250.28,215.23 L250.77,214.95 L251.26,214.67 L251.76,214.36 L252.25,214.03 L252.74,213.68 L253.23,213.30 L253.72,212.88 L254.22,212.41 L254.71,211.90 L255.20,211.35 L255.69,210.76 L256.18,210.15 L256.68,209.51 L257.17,208.84 L257.66,208.16 L258.15,207.46 L258.64,206.75 L259.14,206.03 L259.63,205.28 L260.12,204.49 L260.61,203.64 L261.10,202.75 L261.60,201.80 L262.09,200.77 L262.58,199.65 L263.07,198.44 L263.56,197.16 L264.06,195.83 L264.55,194.47 L265.04,193.10 L265.53,191.74 L266.02,190.40 L266.52,189.12 L267.01,187.88 L267.50,186.65 L267.99,185.43 L268.48,184.21 L268.98,183.01 L269.47,181.81 L269.96,180.61 L270.45,179.43 L270.94,178.26 L271.44,177.09 L271.93,175.94 L272.42,174.80 L272.91,173.67 L273.40,172.55 L273.90,171.44 L274.39,170.33 L274.88,169.24 L275.37,168.15 L275.86,167.07 L276.36,166.01 L276.85,164.95 L277.34,163.90 L277.83,162.86 L278.32,161.83 L278.82,160.74 L279.31,159.60 L279.80,158.45 L280.29,157.32 L280.78,156.24 L281.28,155.23 L281.77,154.34 L282.26,153.59 L282.75,153.02 L283.24,152.55 L283.74,152.09 L284.23,151.65 L284.72,151.25 L285.21,150.89 L285.70,150.58 L286.20,150.34 L286.69,150.18 L287.18,150.10 L287.67,150.12 L288.16,150.27 L288.66,150.51 L289.15,150.84 L289.64,151.23 L290.13,151.67 L290.62,152.14 L291.12,152.61 L291.61,153.11 L292.10,153.69 L292.59,154.36 L293.08,155.10 L293.58,155.91 L294.07,156.78 L294.56,157.70 L295.05,158.66 L295.54,159.64 L296.04,160.65 L296.53,161.77 L297.02,163.01 L297.51,164.34 L298.00,165.74 L298.50,167.19 L298.99,168.66 L299.48,170.14 L299.97,171.59 L300.46,172.99 L300.96,174.33 L301.45,175.58 L301.94,176.78 L302.43,177.95 L302.92,179.10 L303.42,180.23 L303.91,181.35 L304.40,182.47 L304.89,183.59 L305.38,184.72 L305.88,185.87 L306.37,187.05 L306.86,188.25 L307.35,189.47 L307.84,190.69 L308.34,191.90 L308.83,193.08 L309.32,194.23 L309.81,195.32 L310.30,196.35 L310.80,197.34 L311.29,198.33 L311.78,199.30 L312.27,200.25 L312.76,201.16 L313.26,202.02 L313.75,202.82 L314.24,203.55 L314.73,204.19 L315.22,204.74 L315.72,205.27 L316.21,205.77 L316.70,206.24 L317.19,206.68 L317.68,207.09 L318.18,207.45 L318.67,207.76 L319.16,208.02 L319.65,208.23 L320.14,208.42 L320.64,208.60 L321.13,208.77 L321.62,208.91 L322.11,209.04 L322.60,209.13 L323.10,209.18 L323.59,209.18 L324.08,209.13 L324.57,209.03 L325.06,208.88 L325.56,208.69 L326.05,208.47 L326.54,208.23 L327.03,207.97 L327.52,207.70 L328.02,207.44 L328.51,207.18 L329.00,206.94 L329.49,206.69 L329.98,206.42 L330.48,206.14 L330.97,205.84 L331.46,205.54 L331.95,205.23 L332.44,204.90 L332.94,204.57 L333.43,204.24 L333.92,203.89 L334.41,203.54 L334.90,203.19 L335.40,202.83 L335.89,202.47 L336.38,202.11 L336.87,201.73 L337.20,201.47" fill="none" stroke="#ff0000" stroke-width="1.25"/>
<path d="M206.00,168.34 L206.49,172.42 L206.98,176.29 L207.48,179.96 L207.97,183.43 L208.46,186.68 L208.95,189.73 L209.44,192.55 L209.94,195.16 L210.43,197.51 L210.92,199.64 L211.41,201.62 L211.90,203.51 L212.40,205.41 L212.89,207.35 L213.38,209.25 L213.87,211.01 L214.36,212.54 L214.86,213.75 L215.35,214.84 L215.84,215.81 L216.33,216.67 L216.82,217.37 L217.32,217.91 L217.81,218.35 L218.30,218.77 L218.79,219.14 L219.28,219.47 L219.78,219.75 L220.27,219.97 L220.76,220.14 L221.25,220.25 L221.74,220.32 L222.24,220.38 L222.73,220.42 L223.22,220.46 L223.71,220.51 L224.20,220.56 L224.70,220.63 L225.19,220.72 L225.68,220.84 L226.17,220.98 L226.66,221.14 L227.16,221.30 L227.65,221.47 L228.14,221.63 L228.63,221.77 L229.12,221.91 L229.62,222.06 L230.11,222.22 L230.60,222.37 L231.09,222.50 L231.58,222.59 L232.08,222.64 L232.57,222.64 L233.06,222.64 L233.55,222.63 L234.04,222.62 L234.54,222.61 L235.03,222.60 L235.52,222.59 L236.01,222.58 L236.50,222.55 L237.00,222.51 L237.49,222.44 L237.98,222.37 L238.47,222.27 L238.96,222.16 L239.46,222.05 L239.95,221.92 L240.44,221.78 L240.93,221.64 L241.42,221.49 L241.92,221.34 L242.41,221.16 L242.90,220.94 L243.39,220.70 L243.88,220.42 L244.38,220.13 L244.87,219.81 L245.36,219.49 L245.85,219.15 L246.34,218.81 L246.84,218.46 L247.33,218.12 L247.82,217.78 L248.31,217.43 L248.80,217.07 L249.30,216.70 L249.79,216.32 L250.28,215.93 L250.77,215.53 L251.26,215.11 L251.76,214.68 L252.25,214.23 L252.74,213.77 L253.23,213.30 L253.72,212.80 L254.22,212.29 L254.71,211.76 L255.20,211.20 L255.69,210.63 L256.18,210.03 L256.68,209.41 L257.17,208.78 L257.66,208.12 L258.15,207.45 L258.64,206.75 L259.14,206.03 L259.63,205.28 L260.12,204.49 L260.61,203.64 L261.10,202.75 L261.60,201.80 L262.09,200.77 L262.58,199.65 L263.07,198.44 L263.56,197.16 L264.06,195.83 L264.55,194.47 L265.04,193.10 L265.53,191.74 L266.02,190.40 L266.52,189.12 L267.01,187.88 L267.50,186.65 L267.99,185.43 L268.48,184.21 L268.98,183.01 L269.47,181.81 L269.96,180.61 L270.45,179.43 L270.94,178.26 L271.44,177.09 L271.93,175.94 L272.42,174.80 L272.91,173.67 L273.40,172.55 L273.90,171.44 L274.39,170.33 L274.88,169.24 L275.37,168.15 L275.86,167.07 L276.36,166.01 L276.85,164.95 L277.34,163.90 L277.83,162.86 L278.32,161.83 L278.82,160.74 L279.31,159.60 L279.80,158.45 L280.29,157.32 L280.78,156.24 L281.28,155.23 L281.77,154.34 L282.26,153.59 L282.75,153.02 L283.24,152.55 L283.74,152.09 L284.23,151.65 L284.72,151.25 L285.21,150.89 L285.70,150.58 L286.20,150.34 L286.69,150.18 L287.18,150.10 L287.67,150.12 L288.16,150.27 L288.66,150.51 L289.15,150.84 L289.64,151.23 L290.13,151.67 L290.62,152.14 L291.12,152.61 L291.61,153.11 L292.10,153.69 L292.59,154.36 L293.08,155.10 L293.58,155.91 L294.07,156.78 L294.56,157.70 L295.05,158.66 L295.54,159.64 L296.04,160.65 L296.53,161.77 L297.02,163.01 L297.51,164.34 L298.00,165.74 L298.50,167.19 L298.99,168.66 L299.48,170.14 L299.97,171.59 L300.46,172.99 L300.96,174.33 L301.45,175.58 L301.94,176.78 L302.43,177.95 L302.92,179.10 L303.42,180.23 L303.91,181.35 L304.40,182.47 L304.89,183.59 L305.38,184.72 L305.88,185.87 L306.37,187.05 L306.86,188.25 L307.35,189.47 L307.84,190.69 L308.34,191.90 L308.83,193.08 L309.32,194.23 L309.81,195.32 L310.30,196.35 L310.80,197.34 L311.29,198.31 L311.78,199.27 L312.27,200.20 L312.76,201.09 L313.26,201.94 L313.75,202.75 L314.24,203.49 L314.73,204.17 L315.22,204.78 L315.72,205.38 L316.21,205.96 L316.70,206.52 L317.19,207.04 L317.68,207.53 L318.18,207.96 L318.67,208.33 L319.16,208.63 L319.65,208.85 L320.14,209.05 L320.64,209.23 L321.13,209.40 L321.62,209.54 L322.11,209.66 L322.60,209.75 L323.10,209.80 L323.59,209.81 L324.08,209.76 L324.57,209.65 L325.06,209.50 L325.56,209.31 L326.05,209.09 L326.54,208.85 L327.03,208.59 L327.52,208.33 L328.02,208.06 L328.51,207.81 L329.00,207.56 L329.49,207.31 L329.98,207.04 L330.48,206.76 L330.97,206.47 L331.46,206.16 L331.95,205.85 L332.44,205.53 L332.94,205.20 L333.43,204.86 L333.92,204.51 L334.41,204.16 L334.90,203.81 L335.40,203.46 L335.89,203.10 L336.38,202.74 L336.87,202.36 L337.20,202.09" fill="none" stroke="#0000ff" stroke-width="1.25"/>
<path d="M297.0,137.60 H309.4" stroke="#000" stroke-width="1.35"/>
<text transform="rotate(0.05 311.5 139.50)" x="311.5" y="139.50" font-size="6.7" font-weight="bold">Fe<tspan font-size="5.6" dy="1.9">x</tspan><tspan dy="-1.9">Cu</tspan><tspan font-size="5.6" dy="1.9">y</tspan><tspan dy="-1.9">Se</tspan></text>
<path d="M297.0,147.75 H309.4" stroke="#ff0000" stroke-width="1.35"/>
<text transform="rotate(0.05 311.5 149.65)" x="311.5" y="149.65" font-size="6.7" font-weight="bold">L-Fe<tspan font-size="5.6" dy="1.9">x</tspan><tspan dy="-1.9">Cu</tspan><tspan font-size="5.6" dy="1.9">y</tspan><tspan dy="-1.9">Se</tspan></text>
<path d="M297.0,157.90 H309.4" stroke="#0000ff" stroke-width="1.35"/>
<text transform="rotate(0.05 311.5 159.80)" x="311.5" y="159.80" font-size="6.7" font-weight="bold">D-Fe<tspan font-size="5.6" dy="1.9">x</tspan><tspan dy="-1.9">Cu</tspan><tspan font-size="5.6" dy="1.9">y</tspan><tspan dy="-1.9">Se</tspan></text>
</g>
</svg></body></html>
